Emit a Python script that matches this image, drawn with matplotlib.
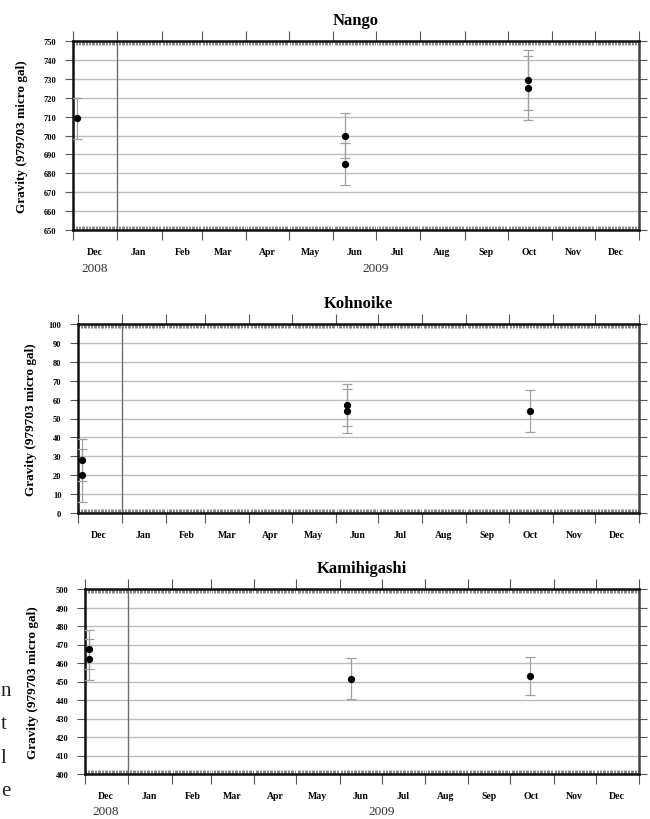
import matplotlib
matplotlib.use('Agg')
import matplotlib.pyplot as plt
import matplotlib.dates as mdates
import numpy as np
from datetime import datetime

plt.rcParams['font.family'] = ['Liberation Serif', 'DejaVu Serif']

# data
nango_dates = ['2008-12-04', '2009-06-09', '2009-06-09', '2009-10-15', '2009-10-15']
nango_vals = [709, 700, 685, 729.5, 725]
nango_err = [11, 12, 11, 16, 17]

kohnoike_dates = ['2008-12-04', '2008-12-04', '2009-06-09', '2009-06-09', '2009-10-16']
kohnoike_vals = [28, 20, 57, 54, 54]
kohnoike_err = [11, 14, 11, 11.5, 11]

kami_dates = ['2008-12-04', '2008-12-04', '2009-06-09', '2009-10-15']
kami_vals = [467.5, 462, 451.5, 453]
kami_err = [10.5, 11, 11, 10.5]

month_labels = ['Dec', 'Jan', 'Feb', 'Mar', 'Apr', 'May', 'Jun',
                'Jul', 'Aug', 'Sep', 'Oct', 'Nov', 'Dec']
ylabel = 'Gravity (979703 micro gal)'

x_start = datetime(2008, 12, 1)
x_end = datetime(2010, 1, 1)
month_starts = [datetime(2008, 12, 1)] + [datetime(2009, m, 1) for m in range(1, 13)] + [datetime(2010, 1, 1)]
month_mids = [datetime(2008, 12, 16)] + [datetime(2009, m, 16) for m in range(1, 13)]

fig = plt.figure(figsize=(6.5, 8.2), dpi=100)
W, H = 650, 820


def px_axes(l, r, t, b):
    return fig.add_axes([l / W, 1 - b / H, (r - l) / W, (b - t) / H])


def panel(ax, title, dates, vals, errs, ylim, ylab_x, years=True):
    d = [datetime.strptime(s, '%Y-%m-%d') for s in dates]
    ax.errorbar(d, vals, yerr=errs, fmt='none', ecolor='#a0a0a0', elinewidth=0.9,
                capsize=3.5, capthick=0.9, zorder=3)
    ax.plot(d, vals, 'o', color='black', markersize=4.2, zorder=4)

    ax.set_xlim(x_start, x_end)
    ax.set_ylim(*ylim)
    ax.set_yticks(np.arange(ylim[0], ylim[1] + 1, 10))
    ax.grid(axis='y', color='#bdbdbd', linewidth=1)
    ax.axvline(datetime(2009, 1, 1), color='#6e6e6e', linewidth=1, zorder=2)

    ax.set_xticks(month_starts)
    ax.xaxis.set_minor_locator(mdates.DayLocator())
    ax.tick_params(axis='x', which='major', direction='out', length=7, width=0.8,
                   top=True, bottom=True, labelbottom=False, color='#555555')
    ax.tick_params(axis='x', which='minor', direction='in', length=3, width=0.5,
                   top=True, bottom=True, color='#555555')
    ax.tick_params(axis='y', which='major', direction='out', length=6, width=0.8,
                   left=True, right=True, labelsize=6, pad=6, color='#555555')
    for lab in ax.get_yticklabels():
        lab.set_fontweight('bold')

    for sp in ax.spines.values():
        sp.set_linewidth(1.8)
        sp.set_color('#111111')
    ax.spines['right'].set_color('#444444')

    sec = ax.secondary_xaxis('bottom')
    sec.set_xticks(month_mids)
    sec.set_xticklabels(month_labels, fontsize=7, fontweight='bold')
    sec.tick_params(length=0, pad=12)
    sec.spines['bottom'].set_visible(False)

    if years:
        ax.annotate('2008', xy=(datetime(2008, 12, 16), 0), xycoords=('data', 'axes fraction'),
                    xytext=(0, -27), textcoords='offset points', ha='center', va='center',
                    fontsize=9.5, color='#333333')
        ax.annotate('2009', xy=(datetime(2009, 7, 1), 0), xycoords=('data', 'axes fraction'),
                    xytext=(0, -27), textcoords='offset points', ha='center', va='center',
                    fontsize=9.5, color='#333333')

    ax.set_title(title, fontsize=12, fontweight='bold', pad=12)
    ax.set_ylabel(ylabel, fontsize=9.5, fontweight='bold')
    ax.yaxis.set_label_coords(ylab_x, 0.5)


ax1 = px_axes(73, 639, 42, 231)
panel(ax1, 'Nango', nango_dates, nango_vals, nango_err, (650, 750), -0.08)

ax2 = px_axes(78, 639, 325, 514)
panel(ax2, 'Kohnoike', kohnoike_dates, kohnoike_vals, kohnoike_err, (0, 100), -0.073, years=False)

ax3 = px_axes(85, 639, 590, 775)
panel(ax3, 'Kamihigashi', kami_dates, kami_vals, kami_err, (400, 500), -0.083)

# fragments of body text at the left edge of the page
for ch, y in zip(['n', 't', 'l', 'e'], [692, 725, 759, 792]):
    fig.text(1 / W, 1 - y / H, ch, fontsize=15, ha='left', va='center', color='#222222')

fig.savefig('out.png', dpi=100)
